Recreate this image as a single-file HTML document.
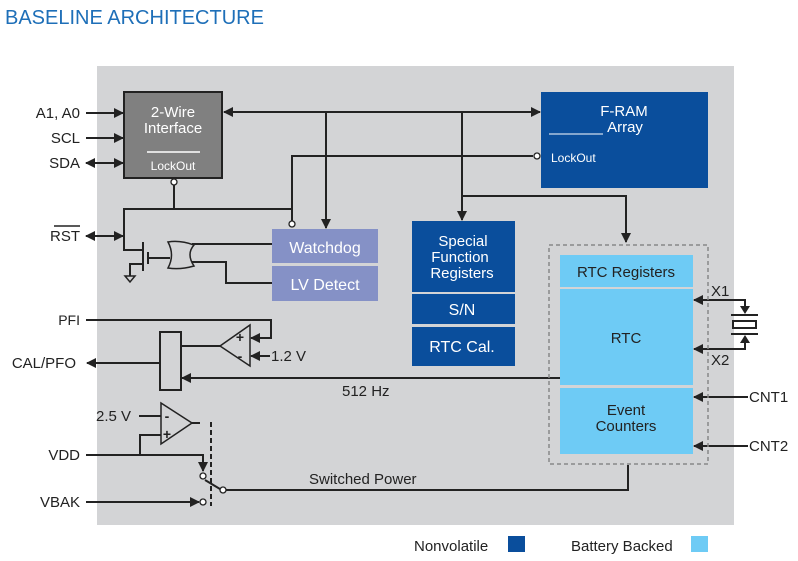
<!DOCTYPE html>
<html><head><meta charset="utf-8"><style>
html,body{margin:0;padding:0;background:#fff;}
svg{display:block;font-family:"Liberation Sans",sans-serif;}
</style></head><body>
<svg width="798" height="561" viewBox="0 0 798 561" xmlns="http://www.w3.org/2000/svg">
<defs>
<marker id="a" markerWidth="10" markerHeight="10" refX="9" refY="5" orient="auto" markerUnits="userSpaceOnUse"><path d="M0,0 L10,5 L0,10 z" fill="#222"/></marker>
<marker id="s" markerWidth="10" markerHeight="10" refX="1" refY="5" orient="auto" markerUnits="userSpaceOnUse"><path d="M10,0 L0,5 L10,10 z" fill="#222"/></marker>
</defs>
<text x="5" y="24" font-size="20" fill="#1e6fb8">BASELINE ARCHITECTURE</text>
<rect x="97" y="66" width="637" height="459" fill="#d3d4d6"/>
<g stroke="#222" stroke-width="2" fill="none">
<line x1="86" y1="113" x2="123" y2="113" marker-end="url(#a)"/>
<line x1="86" y1="138" x2="123" y2="138" marker-end="url(#a)"/>
<line x1="86" y1="163" x2="123" y2="163" marker-end="url(#a)" marker-start="url(#s)"/>
<line x1="86" y1="236" x2="123" y2="236" marker-end="url(#a)" marker-start="url(#s)"/>
<line x1="540" y1="112" x2="224" y2="112" marker-end="url(#a)" marker-start="url(#s)"/>
<line x1="326" y1="112" x2="326" y2="228" marker-end="url(#a)"/>
<line x1="462" y1="112" x2="462" y2="220" marker-end="url(#a)"/>
<polyline points="462,196 626,196 626,242" marker-end="url(#a)"/>
<polyline points="533,156 292,156 292,221"/>
<line x1="174" y1="185" x2="174" y2="209"/>
<polyline points="292,209 124,209 124,250 143,250"/>
<line x1="143" y1="242" x2="143" y2="271"/>
<line x1="148" y1="252" x2="148" y2="264"/>
<line x1="148" y1="258" x2="170" y2="258"/>
<polyline points="143,264 130,264 130,276"/>
<path d="M125,276 L135,276 L130,282 z" stroke-width="1.5"/>
<path d="M168,242 Q180,240 194,245 Q186,254 194,266 Q180,270 168,268 Q175,255 168,242 z" stroke-width="1.5"/>
<line x1="192" y1="244" x2="272" y2="244"/>
<polyline points="192,262 226,262 226,283 272,283"/>
<path d="M250,325 L250,366 L220,346 z" stroke-width="1.5"/>
<line x1="220" y1="346" x2="181" y2="346"/>
<polyline points="86,320 271,320 271,338 251,338" marker-end="url(#a)"/>
<line x1="270" y1="356" x2="251" y2="356" marker-end="url(#a)"/>
<rect x="160" y="332" width="21" height="58"/>
<line x1="160" y1="363" x2="87" y2="363" marker-end="url(#a)"/>
<line x1="560" y1="378" x2="182" y2="378" marker-end="url(#a)"/>
<path d="M161,403 L161,444 L192,423 z" stroke-width="1.5"/>
<line x1="192" y1="423" x2="200" y2="423"/>
<line x1="139" y1="416" x2="161" y2="416"/>
<polyline points="161,435 140,435 140,455"/>
<polyline points="86,455 203,455 203,471" marker-end="url(#a)"/>
<line x1="86" y1="502" x2="199" y2="502" marker-end="url(#a)"/>
<line x1="211" y1="422" x2="211" y2="506" stroke-dasharray="5,3"/>
<line x1="205" y1="480" x2="220" y2="489"/>
<polyline points="226,490 628,490 628,465"/>
<polyline points="745,312 745,300 694,300" marker-end="url(#a)"/>
<polyline points="745,338 745,349 694,349" marker-end="url(#a)"/>
<line x1="748" y1="397" x2="694" y2="397" marker-end="url(#a)"/>
<line x1="748" y1="446" x2="694" y2="446" marker-end="url(#a)"/>
<line x1="731" y1="315" x2="758" y2="315"/>
<line x1="731" y1="334" x2="758" y2="334"/>
<rect x="733" y="321" width="23" height="7"/>
</g>
<path d="M740,306 L750,306 L745,314 z" fill="#222"/>
<path d="M740,343 L750,343 L745,335 z" fill="#222"/>
<g fill="#fff" stroke="#222" stroke-width="1.3">
<circle cx="174" cy="182" r="3"/><circle cx="292" cy="224" r="3"/><circle cx="537" cy="156" r="3"/>
<circle cx="203" cy="476" r="3"/><circle cx="203" cy="502" r="3"/><circle cx="223" cy="490" r="3"/>
</g>
<rect x="124" y="92" width="98" height="86" fill="#808080" stroke="#222" stroke-width="2"/>
<text x="173" y="117" font-size="15" fill="#fff" text-anchor="middle">2-Wire</text>
<text x="173" y="133" font-size="15" fill="#fff" text-anchor="middle">Interface</text>
<line x1="147" y1="152" x2="200" y2="152" stroke="#fff" stroke-width="1.5"/>
<text x="173" y="170" font-size="12" fill="#fff" text-anchor="middle">LockOut</text>
<rect x="272" y="229" width="106" height="34" fill="#8591c6"/>
<rect x="272" y="266" width="106" height="35" fill="#8591c6"/>
<text x="325" y="253" font-size="16" fill="#fff" text-anchor="middle">Watchdog</text>
<text x="325" y="290" font-size="16" fill="#fff" text-anchor="middle">LV Detect</text>
<rect x="541" y="92" width="167" height="96" fill="#0a4e9c"/>
<text x="624" y="116" font-size="15" fill="#fff" text-anchor="middle">F-RAM</text>
<text x="625" y="132" font-size="15" fill="#fff" text-anchor="middle">Array</text>
<line x1="549" y1="134" x2="603" y2="134" stroke="#fff" stroke-width="1"/>
<text x="551" y="162" font-size="12" fill="#fff">LockOut</text>
<rect x="412" y="221" width="103" height="71" fill="#0a4e9c"/>
<rect x="412" y="294" width="103" height="30" fill="#0a4e9c"/>
<rect x="412" y="327" width="103" height="39" fill="#0a4e9c"/>
<text x="463" y="246" font-size="15" fill="#fff" text-anchor="middle">Special</text>
<text x="460" y="262" font-size="15" fill="#fff" text-anchor="middle">Function</text>
<text x="462" y="278" font-size="15" fill="#fff" text-anchor="middle">Registers</text>
<text x="462" y="315" font-size="16" fill="#fff" text-anchor="middle">S/N</text>
<text x="462" y="352" font-size="16" fill="#fff" text-anchor="middle">RTC Cal.</text>
<rect x="549" y="245" width="159" height="219" fill="none" stroke="#888" stroke-width="1.5" stroke-dasharray="4,3"/>
<rect x="560" y="255" width="133" height="32" fill="#6ecbf5"/>
<rect x="560" y="289" width="133" height="96" fill="#6ecbf5"/>
<rect x="560" y="388" width="133" height="66" fill="#6ecbf5"/>
<g font-size="15" fill="#222" text-anchor="middle">
<text x="626" y="277">RTC Registers</text>
<text x="626" y="343">RTC</text>
<text x="626" y="415">Event</text>
<text x="626" y="431">Counters</text>
</g>
<g font-size="15" fill="#222">
<text x="80" y="118" text-anchor="end">A1, A0</text>
<text x="80" y="143" text-anchor="end">SCL</text>
<text x="80" y="168" text-anchor="end">SDA</text>
<text x="80" y="241" text-anchor="end">RST</text>
<text x="80" y="325" text-anchor="end" font-size="14">PFI</text>
<text x="76" y="368" text-anchor="end">CAL/PFO</text>
<text x="80" y="460" text-anchor="end">VDD</text>
<text x="80" y="507" text-anchor="end">VBAK</text>
<text x="271" y="361">1.2 V</text>
<text x="96" y="421">2.5 V</text>
<text x="342" y="396">512 Hz</text>
<text x="309" y="484">Switched Power</text>
<text x="711" y="296">X1</text>
<text x="711" y="365">X2</text>
<text x="749" y="402">CNT1</text>
<text x="749" y="451">CNT2</text>
<text x="414" y="551">Nonvolatile</text>
<text x="571" y="551">Battery Backed</text>
</g>
<line x1="54" y1="226" x2="80" y2="226" stroke="#222" stroke-width="1.5"/>
<g font-size="14" fill="#222" font-weight="bold">
<text x="240" y="342" text-anchor="middle">+</text>
<text x="240" y="361" text-anchor="middle">-</text>
<text x="167" y="421" text-anchor="middle">-</text>
<text x="167" y="439" text-anchor="middle">+</text>
</g>
<rect x="508" y="536" width="17" height="16" fill="#0a4e9c"/>
<rect x="691" y="536" width="17" height="16" fill="#6ecbf5"/>
</svg>
</body></html>
